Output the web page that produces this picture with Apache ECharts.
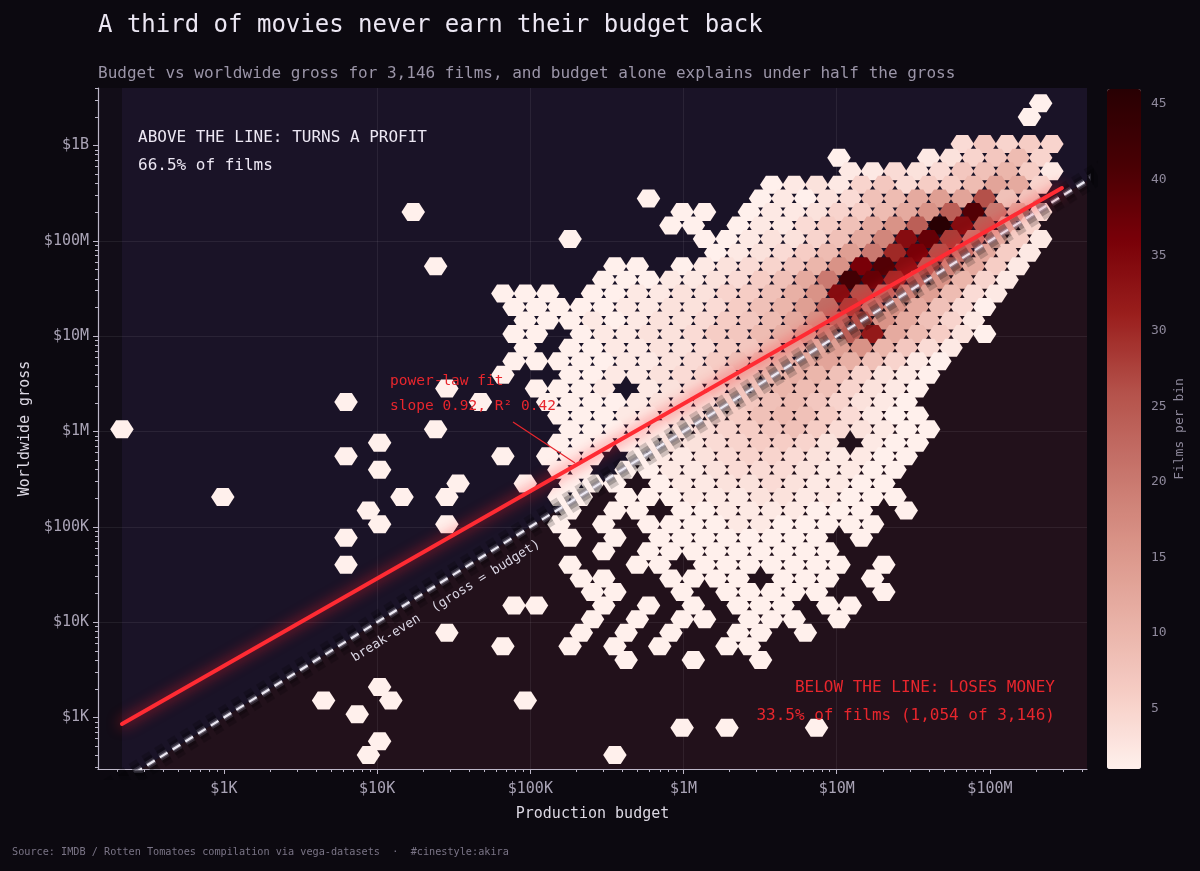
<!DOCTYPE html>
<html>
<head>
<meta charset="utf-8">
<title>A third of movies never earn their budget back</title>
<script src="https://cdn.jsdelivr.net/npm/echarts@6.0.0/dist/echarts.min.js"></script>
<style>
  html, body { margin: 0; padding: 0; background: #0c0910; }
  #chart { width: 1200px; height: 871px; }
</style>
</head>
<body>
<div id="chart"></div>
<script>
// hexbin lattice in log10 units (column c, half-row h, c + h even)
const hexX0 = 4.0163   // log10 budget at column 0
const hexDX = 0.07313  // column step
const hexY0 = 3.3197   // log10 gross at half-row 0
const hexDY = 0.14238  // half-row step
const hexTopRow = 43
const hexHalfW = 0.0767
const hexHalfH = 0.0944

// films per bin, one string per half-row from the top (h = 43 .. -5)
// "col:codes", one code per cell, cells two columns apart, '.' = empty
const countCodes = '0123456789abcdefghijklmnopqrstuvwxyzABCDEFGHIJK'
const hexRows = [
  '59:1',
  '58:1',
  '',
  '52:47565',
  '41:1 49:235795',
  '42:2243478a62',
  '35:1232574669dc5',
  '24:1 34:1213489cedq87',
  '3:1 27:11.1223569cgoEkc4',
  '26:11.122468cgoKyoc5',
  '17:1 29:1123358ciyCskc62',
  '30:123469ekuAqkc62',
  '5:1 21:11.123457agAEyoic62',
  '20:111223468ckGCumga52',
  '11:111.112233568bgyqmie942',
  '12:111112233468aemskgc841',
  '13:111212334679cgmqgc852',
  '12:11.122334679beiowc9631',
  '13:1.1122334679bcega742',
  '12:111112234689bcdb8521',
  '11:1..112234578aba85321',
  '6:1 14:1112.234578a985321',
  '-3:1 9:1 15:11112334678975321',
  '16:11122345689864211',
  '-23:1 5:1 17:11112345678643211',
  '0:1 16:1111233456653.211',
  '-3:1 11:1 15:111.1223455432211',
  '0:1 16:11.1122344432211',
  '7:1 13:1.111.12233432211',
  '-14:1 2:1 6:1 16:11.1112223322111',
  '-1:1 17:1.11.112222111.1',
  '0:1 6:1 16:1.1.11112211111',
  '-3:1 17:1.1.11111111.1',
  '20:1.111111111',
  '-3:1 17:1..11.1111111.1',
  '18:11..1111.111.1',
  '19:11..1.11111..1',
  '12:11..1.1.1.111.11',
  '19:1.1.11.111.1',
  '6:1 18:1.1.1..11.1',
  '11:1 17:1.1.1..11',
  '22:1 28:1 34:1',
  '',
  '0:1',
  '-5:1 1:1 13:1',
  '-2:1',
  '27:1 31:1 39:1',
  '0:1',
  '-1:1 21:1'
]

const budgetTicks = [1e3, 1e4, 1e5, 1e6, 1e7, 1e8]
const grossTicks = [1e3, 1e4, 1e5, 1e6, 1e7, 1e8, 1e9]
const countTicks = [5, 10, 15, 20, 25, 30, 35, 40, 45]
const budgetRange = [150.7, 4.3e8]
const grossRange = [288.4, 4.01e9]
const fitLine = [[216, 855], [2.95e8, 3.58e8]]
const breakEven = [[100, 100], [1e9, 1e9]]
const shadeSpan = [[216, 4.3e8]]

const font = '"DejaVu Sans Mono", monospace'
const red = '#e8262d'

const minorTicks = (from, to) => {
  const out = []
  for (let e = from; e <= to; e++) for (let m = 2; m <= 9; m++) out.push(m * 10 ** e)
  return out
}

const money = v => {
  const e = Math.round(Math.log10(v))
  if (e >= 9) return '$' + 10 ** (e - 9) + 'B'
  if (e >= 6) return '$' + 10 ** (e - 6) + 'M'
  return '$' + 10 ** (e - 3) + 'K'
}

const hexCells = []
hexRows.forEach((row, idx) => {
  const h = hexTopRow - idx
  row.split(' ').filter(Boolean).forEach(run => {
    const [start, codes] = run.split(':')
    for (let i = 0; i < codes.length; i++) {
      const n = countCodes.indexOf(codes[i])
      if (n > 0) {
        const c = +start + 2 * i
        hexCells.push([10 ** (hexX0 + c * hexDX), 10 ** (hexY0 + h * hexDY), n])
      }
    }
  })
})

const renderHex = (params, api) => {
  const lx = Math.log10(api.value(0))
  const ly = Math.log10(api.value(1))
  const pts = [
    [lx - hexHalfW, ly], [lx - hexHalfW / 2, ly + hexHalfH], [lx + hexHalfW / 2, ly + hexHalfH],
    [lx + hexHalfW, ly], [lx + hexHalfW / 2, ly - hexHalfH], [lx - hexHalfW / 2, ly - hexHalfH]
  ].map(p => api.coord([10 ** p[0], 10 ** p[1]]))
  return { type: 'polygon', shape: { points: pts }, style: { fill: api.visual('color') } }
}

const renderShade = (params, api) => {
  const x0 = api.value(0), x1 = api.value(1)
  const a = api.coord([x0, x0]), b = api.coord([x1, x1])
  const top = params.coordSys.y, bottom = params.coordSys.y + params.coordSys.height
  return {
    type: 'group',
    children: [
      { type: 'polygon', shape: { points: [[a[0], top], [b[0], top], b, a] }, style: { fill: '#1a1327' } },
      { type: 'polygon', shape: { points: [a, b, [b[0], bottom + 50], [a[0], bottom + 50]] }, style: { fill: '#22111b' } }
    ]
  }
}

const glowLayers = [
  [22, 'rgba(0,0,0,0.18)'],
  [14, 'rgba(0,0,0,0.22)'],
  [8, 'rgba(110,105,125,0.3)'],
  [4.5, 'rgba(215,210,230,0.3)'],
  [2.2, '#ece9f3']
]

const breakEvenSeries = glowLayers.map(([w, col]) => ({
  type: 'line', data: breakEven, showSymbol: false, silent: true, z: 3, clip: true,
  lineStyle: { color: col, width: w, type: [9, 6], cap: 'butt' }
}))

const axisCol = '#bdb7c8'
const labelCol = '#a9a3b5'

const option = {
  backgroundColor: '#0c0910',
  animation: false,
  grid: [
    { left: 98, top: 88, right: 113, bottom: 102, show: true, backgroundColor: '#120d18', borderWidth: 0 },
    { left: 1107, top: 89, width: 34, height: 680, show: false }
  ],
  xAxis: [
    {
      type: 'log', logBase: 10, min: budgetRange[0], max: budgetRange[1], gridIndex: 0, z: 1.5,
      axisLine: { lineStyle: { color: axisCol, width: 1.2 } },
      axisTick: { length: 5, customValues: budgetTicks, lineStyle: { color: axisCol } },
      axisLabel: { customValues: budgetTicks, formatter: money, color: labelCol, fontFamily: font, fontSize: 15, margin: 13 },
      splitLine: { show: true, showMinLine: false, showMaxLine: false, lineStyle: { color: 'rgba(255,255,255,0.07)' } },
      name: 'Production budget', nameLocation: 'middle', nameGap: 38,
      nameTextStyle: { color: '#ddd9e4', fontFamily: font, fontSize: 15 }
    },
    {
      type: 'log', logBase: 10, min: budgetRange[0], max: budgetRange[1], gridIndex: 0, position: 'bottom', z: 1.5,
      axisLine: { show: false },
      axisTick: { length: 3, customValues: minorTicks(2, 8), lineStyle: { color: axisCol } },
      axisLabel: { show: false }, splitLine: { show: false }
    },
    { type: 'value', gridIndex: 1, min: 0, max: 1, show: false }
  ],
  yAxis: [
    {
      type: 'log', logBase: 10, min: grossRange[0], max: grossRange[1], gridIndex: 0, z: 1.5,
      axisLine: { lineStyle: { color: axisCol, width: 1.2 } },
      axisTick: { length: 5, customValues: grossTicks, lineStyle: { color: axisCol } },
      axisLabel: { customValues: grossTicks, formatter: money, color: labelCol, fontFamily: font, fontSize: 15, margin: 9 },
      splitLine: { show: true, showMinLine: false, showMaxLine: false, lineStyle: { color: 'rgba(255,255,255,0.07)' } },
      name: 'Worldwide gross', nameLocation: 'middle', nameGap: 63,
      nameTextStyle: { color: '#ddd9e4', fontFamily: font, fontSize: 15 }
    },
    {
      type: 'log', logBase: 10, min: grossRange[0], max: grossRange[1], gridIndex: 0, position: 'left', z: 1.5,
      axisLine: { show: false },
      axisTick: { length: 3, customValues: minorTicks(2, 9), lineStyle: { color: axisCol } },
      axisLabel: { show: false }, splitLine: { show: false }
    },
    {
      type: 'value', gridIndex: 1, min: 1, max: 46, position: 'right',
      axisLine: { show: false },
      axisTick: { show: true, length: 5, customValues: countTicks, lineStyle: { color: '#8e889b' } },
      axisLabel: { customValues: countTicks, color: '#8e889b', fontFamily: font, fontSize: 13, margin: 10 },
      splitLine: { show: false },
      name: 'Films per bin', nameLocation: 'middle', nameRotate: 90, nameGap: 32,
      nameTextStyle: { color: '#8e889b', fontFamily: font, fontSize: 13 }
    }
  ],
  visualMap: {
    type: 'continuous', min: 1, max: 46, dimension: 2, seriesIndex: 1,
    calculable: false, orient: 'vertical', left: 1107, top: 89, itemWidth: 34, itemHeight: 680, padding: 0,
    inRange: { color: ['#fff0ec', '#f6cdc5', '#e8b0a5', '#d99387', '#c6736a', '#b4514a', '#9a1f1d', '#790008', '#480004', '#280003'] }
  },
  series: [
    { type: 'custom', name: 'shade', data: shadeSpan, renderItem: renderShade, clip: true, silent: true, z: 0.5 },
    { type: 'custom', name: 'films', data: hexCells, renderItem: renderHex, encode: { x: 0, y: 1 }, clip: true, z: 2 },
    ...breakEvenSeries,
    {
      type: 'line', name: 'fit', data: fitLine, showSymbol: false, silent: true, z: 4,
      lineStyle: { color: '#ff2b33', width: 4, cap: 'round', shadowBlur: 14, shadowColor: 'rgba(255,30,40,0.9)' }
    }
  ],
  graphic: [
    { type: 'text', x: 98, y: 26, z: 10, style: { text: 'A third of movies never earn their budget back', fill: '#ece7f3', font: '24px ' + font, textVerticalAlign: 'middle' } },
    { type: 'text', x: 98, y: 74, z: 10, style: { text: 'Budget vs worldwide gross for 3,146 films, and budget alone explains under half the gross', fill: '#9b95a8', font: '16px ' + font, textVerticalAlign: 'middle' } },
    { type: 'text', x: 138, y: 138, z: 10, style: { text: 'ABOVE THE LINE: TURNS A PROFIT', fill: '#ece7f3', font: '16px ' + font, textVerticalAlign: 'middle' } },
    { type: 'text', x: 138, y: 166, z: 10, style: { text: '66.5% of films', fill: '#ece7f3', font: '16px ' + font, textVerticalAlign: 'middle' } },
    { type: 'text', x: 1055, y: 688, z: 10, style: { text: 'BELOW THE LINE: LOSES MONEY', fill: red, font: '16px ' + font, textAlign: 'right', textVerticalAlign: 'middle' } },
    { type: 'text', x: 1055, y: 716, z: 10, style: { text: '33.5% of films (1,054 of 3,146)', fill: red, font: '16px ' + font, textAlign: 'right', textVerticalAlign: 'middle' } },
    { type: 'text', x: 390, y: 381, z: 10, style: { text: 'power-law fit', fill: red, font: '14.5px ' + font, textVerticalAlign: 'middle' } },
    { type: 'text', x: 390, y: 406, z: 10, style: { text: 'slope 0.92, R² 0.42', fill: red, font: '14.5px ' + font, textVerticalAlign: 'middle' } },
    { type: 'line', z: 10, shape: { x1: 513, y1: 422, x2: 575, y2: 463 }, style: { stroke: red, lineWidth: 1.2 } },
    { type: 'text', x: 446, y: 601, z: 1, rotation: 0.557, style: { text: 'break-even  (gross = budget)', fill: '#dcd8e6', font: '13px ' + font, textAlign: 'center', textVerticalAlign: 'middle' } },
    { type: 'text', x: 12, y: 852, z: 10, style: { text: 'Source: IMDB / Rotten Tomatoes compilation via vega-datasets  ·  #cinestyle:akira', fill: '#7a7486', font: '10.2px ' + font, textVerticalAlign: 'middle' } }
  ]
}

const chart = echarts.init(document.getElementById('chart'))
chart.setOption(option)
</script>
</body>
</html>
